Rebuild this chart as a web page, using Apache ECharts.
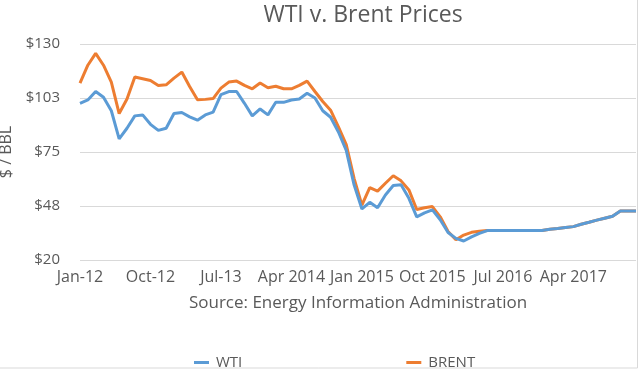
<!DOCTYPE html>
<html>
<head>
<meta charset="utf-8">
<script src="https://cdn.jsdelivr.net/npm/echarts@6/dist/echarts.min.js"></script>
<style>html,body{margin:0;padding:0;background:#fff;}#c{width:640px;height:370px;}</style>
</head>
<body>
<div id="c"></div>
<script>
const months = [
  "Jan-12","Feb-12","Mar-12","Apr-12","May-12","Jun-12","Jul-12","Aug-12","Sep-12","Oct-12","Nov-12","Dec-12",
  "Jan-13","Feb-13","Mar-13","Apr-13","May-13","Jun-13","Jul-13","Aug-13","Sep-13","Oct-13","Nov-13","Dec-13",
  "Jan 2014","Feb 2014","Mar 2014","Apr 2014","May 2014","Jun 2014","Jul 2014","Aug 2014","Sep 2014","Oct 2014","Nov 2014","Dec 2014",
  "Jan 2015","Feb 2015","Mar 2015","Apr 2015","May 2015","Jun 2015","Jul 2015","Aug 2015","Sep 2015","Oct 2015","Nov 2015","Dec 2015",
  "Jan 2016","Feb 2016","Mar 2016","Apr 2016","May 2016","Jun 2016","Jul 2016","Aug 2016","Sep 2016","Oct 2016","Nov 2016","Dec 2016",
  "Jan 2017","Feb 2017","Mar 2017","Apr 2017","May 2017","Jun 2017","Jul 2017","Aug 2017","Sep 2017","Oct 2017","Nov 2017","Dec 2017"
];
const wti = [
  99.8,101.5,105.8,102.9,96,81.7,87.1,93.4,93.9,89.1,86,87.1,
  94.6,95.1,92.9,91.2,93.9,95.3,104.2,105.8,105.8,99.8,93.4,96.9,
  93.9,100.3,100.3,101.5,102,104.9,102.5,96,92.7,85.2,75.8,58.3,
  46,49.4,46.6,53.1,57.9,58.3,51.4,42,44,45.5,40.5,34,
  31,29.7,31.8,33.6,35,35,35,35,35,35,35,35,
  35.7,36,36.5,37,38.2,39.2,40.3,41.3,42.3,45,45,45
];
const brent = [
  110.1,119.2,125.2,119.2,110.6,94.6,102,113.2,112.3,111.4,108.9,109.2,
  112.6,115.7,108.4,101.6,101.8,102.2,107.5,110.6,111.1,108.9,107.2,110.1,
  107.7,108.5,107.2,107.2,108.9,111.1,105.8,100.7,96.3,87.8,78.8,61.6,
  47.9,56.9,55.1,59.1,62.9,60.3,55.7,45.7,46.6,47.2,42,34.5,
  30.3,32.7,34.1,34.6,35,35,35,35,35,35,35,35,
  35.7,36,36.5,37,38.2,39.2,40.3,41.3,42.3,45,45,45
];
const seriesNames = ["WTI","BRENT"];
const yMin = 20, yMax = 130, yStep = 27.5;

const FONT = "Open Sans";
const TXT = "#595959";
const chart = echarts.init(document.getElementById('c'), null, {renderer:'canvas'});
chart.setOption({
  animation: false,
  backgroundColor: '#fff',
  textStyle: {fontFamily: FONT},
  title: {
    text: 'WTI v. Brent Prices',
    left: 358, top: -1, textAlign: 'center',
    textStyle: {fontFamily: FONT, fontSize: 23, fontWeight: 'normal', color: TXT}
  },
  legend: {
    data: seriesNames,
    left: 189, top: 350,
    icon: 'rect', itemWidth: 15, itemHeight: 3, itemGap: 164,
    textStyle: {fontFamily: FONT, fontSize: 15, color: TXT, padding:[0,0,0,2]}
  },
  grid: {left: 80, right: 4, top: 44, bottom: 110, containLabel: false, outerBoundsMode: 'none'},
  xAxis: {
    type: 'category', data: months, boundaryGap: false,
    name: 'Source: Energy Information Administration',
    nameLocation: 'middle', nameGap: 35,
    nameTextStyle: {fontFamily: FONT, fontSize: 17, color: TXT},
    axisLine: {show: false}, axisTick: {show: false},
    axisLabel: {interval: 8, margin: 9, fontFamily: FONT, fontSize: 16, color: TXT}
  },
  yAxis: {
    type: 'value', min: yMin, max: yMax, interval: yStep,
    name: '$ / BBL', nameLocation: 'middle', nameGap: 65,
    nameTextStyle: {fontFamily: FONT, fontSize: 16, color: TXT},
    axisLine: {show: false}, axisTick: {show: false},
    axisLabel: {margin: 20, fontFamily: FONT, fontSize: 15, color: TXT,
      formatter: v => '$' + Math.round(v)},
    splitLine: {lineStyle: {color: '#D9D9D9', width: 1}}
  },
  series: [
    {name: seriesNames[0], type: 'line', data: wti, showSymbol: false, symbol: 'none',
     lineStyle: {color: '#5B9BD5', width: 3}, itemStyle: {color: '#5B9BD5'}, z: 3},
    {name: seriesNames[1], type: 'line', data: brent, showSymbol: false, symbol: 'none',
     lineStyle: {color: '#ED7D31', width: 3}, itemStyle: {color: '#ED7D31'}, z: 2}
  ],
  graphic: [{
    type: 'rect', silent: true, z: -1,
    shape: {x: -2, y: -2, width: 639.5, height: 370},
    style: {fill: null, stroke: '#D9D9D9', lineWidth: 1}
  }]
});
</script>
</body>
</html>
